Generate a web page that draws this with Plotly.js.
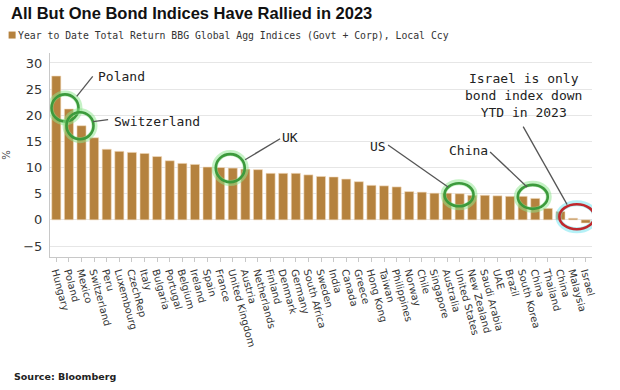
<!DOCTYPE html>
<html>
<head>
<meta charset="utf-8">
<script src="https://cdn.plot.ly/plotly-3.0.1.min.js"></script>
<style>
html,body{margin:0;padding:0;background:#fff;}
#chart{width:620px;height:390px;}
</style>
</head>
<body>
<div id="chart"></div>
<script>
// ---- data ----
var countries = ["Hungary","Poland","Mexico","Switzerland","Peru","Luxembourg","CzechRep","Italy","Bulgaria","Portugal","Belgium","Ireland","Spain","France","United Kingdom","Austria","Netherlands","Finland","Denmark","Germany","South Africa","Sweden","India","Canada","Greece","Hong Kong","Taiwan","Philippines","Norway","Chile","Singapore","Australia","United States","New Zealand","Saudi Arabia","UAE","Brazil","South Korea","China","Thailand","China ","Malaysia","Israel"];
var ytdReturn = [27.5,21.2,18.0,15.7,13.5,13.1,12.9,12.7,12.1,11.3,10.8,10.6,10.1,10.0,9.9,9.7,9.6,8.9,8.9,8.9,8.6,8.3,8.2,7.8,7.3,6.6,6.5,6.3,5.4,5.3,5.1,5.1,5.0,4.7,4.7,4.6,4.5,4.5,4.1,2.2,1.6,0.3,-0.6];
var yTicks = [-5,0,5,10,15,20,25,30];

// ---- callouts (label, circle centre, line) ----
var callouts = [
  {text:"Poland", tx:5.2, ty:27.5, cx:0.69, cy:21.4, w:27, h:27, lx:1.62, ly:23.6, dx:16, dy:-20, color:"#3c9a3c"},
  {text:"Switzerland", tx:8.0, ty:18.9, cx:1.88, cy:18.0, w:27, h:27, lx:2.92, ly:18.8, dx:15, dy:-2, color:"#3c9a3c"},
  {text:"UK", tx:18.55, ty:15.7, cx:13.8, cy:9.9, w:29, h:28, lx:14.98, ly:11.5, dx:35, dy:-21, color:"#3c9a3c"},
  {text:"US", tx:25.5, ty:14.1, cx:31.95, cy:4.8, w:29, h:23, lx:31.08, ly:6.3, dx:-60, dy:-42, color:"#3c9a3c"},
  {text:"China", tx:32.67, ty:13.2, cx:37.8, cy:4.4, w:30, h:24, lx:37.35, ly:6.3, dx:-37, dy:-35, color:"#3c9a3c"},
  {text:"Israel is only<br>bond index down<br>YTD in 2023", tx:37.07, ty:23.7, cx:41.3, cy:0.6, w:35, h:25, lx:40.53, ly:2.9, dx:-44, dy:-78, color:"#c0282d"}
];

var barColor = "#b5823e";

var trace = {
  type:"bar",
  x:countries,
  y:ytdReturn,
  marker:{color:barColor, line:{color:"#f3dcc0", width:0.6}},
  width:0.72,
  hoverinfo:"x+y"
};

var shapes = [];
var annotations = [];
callouts.forEach(function(c){
  shapes.push({type:"circle", xref:"x", yref:"y", xsizemode:"pixel", ysizemode:"pixel",
    xanchor:c.cx, yanchor:c.cy, x0:-c.w/2-1, x1:c.w/2+1, y0:-c.h/2-1, y1:c.h/2+1,
    line:{color: c.color==="#c0282d" ? "rgba(120,230,240,0.55)" : "rgba(140,230,140,0.5)", width:6}});
  shapes.push({type:"circle", xref:"x", yref:"y", xsizemode:"pixel", ysizemode:"pixel",
    xanchor:c.cx, yanchor:c.cy, x0:-c.w/2, x1:c.w/2, y0:-c.h/2, y1:c.h/2,
    line:{color:c.color, width:2.6}});
  shapes.push({type:"line", xref:"x", yref:"y", xsizemode:"pixel", ysizemode:"pixel",
    xanchor:c.lx, yanchor:c.ly, x0:0, y0:0, x1:c.dx, y1:-c.dy,
    line:{color:"#555", width:1.3}});
  annotations.push({x:c.tx, y:c.ty, xref:"x", yref:"y", text:c.text, showarrow:false,
    align:"center", xanchor:"center", yanchor:"middle",
    font:{family:"DejaVu Sans Mono", size:13, color:"#222"}});
});

// title block, legend, source
annotations.push({xref:"paper", yref:"paper", x:-0.075, y:1.196, xanchor:"left", yanchor:"middle",
  text:"<b>All But One Bond Indices Have Rallied in 2023</b>", showarrow:false,
  font:{family:"Liberation Sans", size:16.5, color:"#111"}});
annotations.push({xref:"paper", yref:"paper", x:-0.062, y:1.088, xanchor:"left", yanchor:"middle",
  text:"Year to Date Total Return BBG Global Agg Indices (Govt + Corp), Local Ccy", showarrow:false,
  font:{family:"DejaVu Sans Mono", size:9.8, color:"#333"}});
shapes.push({type:"rect", xref:"paper", yref:"paper", xsizemode:"pixel", ysizemode:"pixel",
  xanchor:-0.069, yanchor:1.088, x0:-4, x1:3, y0:-3.5, y1:3.5, fillcolor:barColor, line:{width:0}});
annotations.push({xref:"paper", yref:"paper", x:-0.071, y:-0.585, xanchor:"left", yanchor:"middle",
  text:"<b>Source: Bloomberg</b>", showarrow:false,
  font:{family:"DejaVu Sans", size:9.5, color:"#222"}});

var layout = {
  width:620, height:390,
  margin:{l:50, r:28, t:53, b:133},
  paper_bgcolor:"#fff", plot_bgcolor:"#fff",
  showlegend:false,
  bargap:0.28,
  xaxis:{
    type:"category", range:[-0.5, 42.5],
    tickmode:"linear", tick0:0, dtick:1,
    tickangle:75, tickfont:{family:"DejaVu Sans", size:10, color:"#333"},
    showline:true, linecolor:"#c8c8c8", linewidth:1,
    ticks:"outside", ticklen:4, tickcolor:"#c8c8c8",
    showgrid:false, zeroline:false, fixedrange:true
  },
  yaxis:{
    range:[-7.1, 31.9], tickvals:yTicks,
    tickfont:{family:"DejaVu Sans", size:13, color:"#333"},
    showline:true, linecolor:"#c8c8c8", linewidth:1,
    gridcolor:"#e6e6e6", gridwidth:1, zeroline:false,
    ticks:"", ticklabelstandoff:4,
    title:{text:"%", font:{family:"DejaVu Sans", size:10, color:"#444"}, standoff:10},
    fixedrange:true
  },
  shapes:shapes,
  annotations:annotations
};

Plotly.newPlot("chart", [trace], layout, {displayModeBar:false, staticPlot:true});
</script>
</body>
</html>
